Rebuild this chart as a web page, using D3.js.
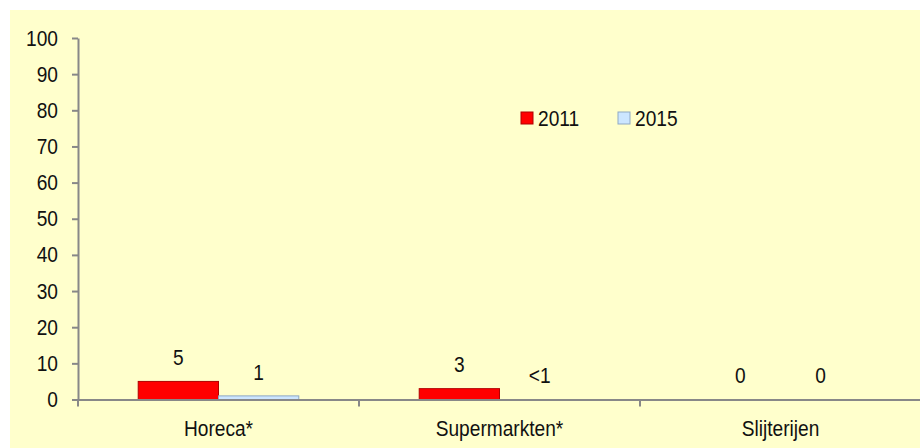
<!DOCTYPE html>
<html>
<head>
<meta charset="utf-8">
<script src="https://cdn.jsdelivr.net/npm/d3@7"></script>
<style>
  body { margin: 0; background: #fff; }
  svg text { font-family: "Liberation Sans", Arial, sans-serif; fill: #111; font-size: 22px; }
</style>
</head>
<body>
<div id="wrapper"></div>
<script>
const categories = ["Horeca*", "Supermarkten*", "Slijterijen"];
const seriesNames = ["2011", "2015"];
const values2011 = [5, 3, 0];
const values2015 = [1, 0, 0];
const labels2011 = ["5", "3", "0"];
const labels2015 = ["1", "<1", "0"];
const yTicks = [0, 10, 20, 30, 40, 50, 60, 70, 80, 90, 100];

let dimensions = {
    width: 920,
    height: 448,
    margin: { top: 38, left: 78, bottom: 48.5, right: -1 }
}
dimensions.boundedWidth = dimensions.width - dimensions.margin.left - dimensions.margin.right;
dimensions.boundedHeight = dimensions.height - dimensions.margin.top - dimensions.margin.bottom;

const colors = { "2011": "#ff0000", "2015": "#cce6ff" };
const strokes = { "2011": "#b00000", "2015": "#8fa9c4" };
const narrow = 0.87; // squeeze text to look like Arial Narrow

// squeeze a text horizontally while keeping its anchor point
function squeeze(sel) {
    sel.each(function() {
        const t = d3.select(this);
        const x = +t.attr("x") || 0;
        t.attr("x", x / narrow).attr("transform", `scale(${narrow},1)`);
    });
}

let wrapper = d3.select("#wrapper").append("svg")
    .attr("width", dimensions.width)
    .attr("height", dimensions.height);

// yellow panel
wrapper.append("rect")
    .attr("x", 10).attr("y", 10)
    .attr("width", dimensions.width - 10)
    .attr("height", dimensions.height - 10)
    .attr("fill", "#ffffcc");

let container = wrapper.append("g")
    .attr("transform", `translate(${dimensions.margin.left}, ${dimensions.margin.top})`);

const data = categories.map((c, i) => ({
    category: c,
    bars: [
        { key: "2011", value: values2011[i], label: labels2011[i] },
        { key: "2015", value: values2015[i], label: labels2015[i] }
    ]
}));

const xScaler = d3.scaleBand()
    .domain(categories)
    .range([0, dimensions.boundedWidth])
    .paddingInner(0)
    .paddingOuter(0);

const innerScaler = d3.scaleBand()
    .domain(seriesNames)
    .range([0, xScaler.bandwidth()])
    .paddingOuter(0.75)
    .paddingInner(0);

const yScaler = d3.scaleLinear()
    .domain([0, 100])
    .range([dimensions.boundedHeight, 0]);

// bars
const groups = container.selectAll(".cat")
    .data(data)
    .enter()
    .append("g")
    .attr("class", "cat")
    .attr("transform", d => `translate(${xScaler(d.category)}, 0)`);

groups.selectAll("rect")
    .data(d => d.bars)
    .enter()
    .append("rect")
    .attr("x", d => innerScaler(d.key))
    .attr("y", d => yScaler(d.value))
    .attr("width", innerScaler.bandwidth())
    .attr("height", d => yScaler(0) - yScaler(d.value))
    .attr("fill", d => colors[d.key])
    .attr("stroke", d => d.value > 0 ? strokes[d.key] : "none")
    .attr("stroke-width", 1);

groups.selectAll(".val")
    .data(d => d.bars)
    .enter()
    .append("text")
    .attr("class", "val")
    .attr("x", d => innerScaler(d.key) + innerScaler.bandwidth() / 2)
    .attr("y", d => yScaler(d.value) - 24)
    .attr("dy", "0.35em")
    .attr("text-anchor", "middle")
    .text(d => d.label)
    .call(squeeze);

// y axis
const yAxisGen = d3.axisLeft(yScaler).tickValues(yTicks).tickSize(6).tickSizeOuter(0).tickPadding(14);
const axisY = container.append("g").call(yAxisGen);
axisY.selectAll("text").style("font-size", null).call(squeeze);

// x axis with boundary ticks
const xAxisGen = d3.axisBottom(xScaler).tickSize(0).tickSizeOuter(0).tickPadding(21);
const axisX = container.append("g")
    .attr("transform", `translate(0, ${dimensions.boundedHeight})`)
    .call(xAxisGen);
axisX.selectAll("text").call(squeeze);
axisX.selectAll(".boundary")
    .data(categories)
    .enter()
    .append("line")
    .attr("class", "boundary")
    .attr("x1", d => xScaler(d)).attr("x2", d => xScaler(d))
    .attr("y1", 0).attr("y2", 7);

container.selectAll(".domain, .tick line, .boundary")
    .attr("stroke", "#888")
    .attr("stroke-width", 2);
wrapper.selectAll(".tick text").attr("font-size", null).attr("font-family", null).attr("fill", null);

// legend
const legend = wrapper.append("g").attr("transform", "translate(521, 118)");
const legendItems = legend.selectAll("g")
    .data(seriesNames)
    .enter()
    .append("g")
    .attr("transform", (d, i) => `translate(${i * 97}, 0)`);
legendItems.append("rect")
    .attr("x", 0).attr("y", -6)
    .attr("width", 12).attr("height", 12)
    .attr("fill", d => colors[d])
    .attr("stroke", d => strokes[d]);
legendItems.append("text")
    .attr("x", 17)
    .attr("dy", "0.35em")
    .text(d => d)
    .call(squeeze);
</script>
</body>
</html>
